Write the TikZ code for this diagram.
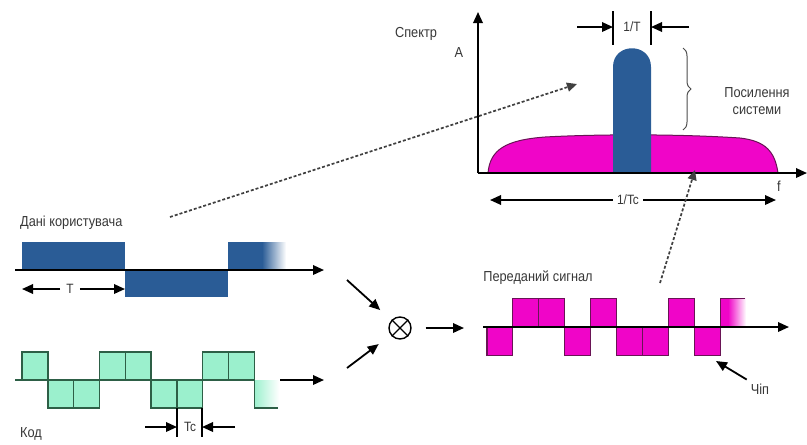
\documentclass[tikz,border=0pt]{standalone}
\usepackage{fontspec}
\setmainfont{Liberation Sans}[FakeStretch=0.88]
\usetikzlibrary{arrows.meta, positioning, decorations.pathreplacing, calc}
\definecolor{databg}{RGB}{42, 92, 150}
\definecolor{chipbg}{RGB}{155, 240, 205}
\definecolor{chipln}{RGB}{45, 95, 70}
\definecolor{sigbg}{RGB}{240, 5, 200}
\definecolor{sigln}{RGB}{105, 20, 85}
\definecolor{txt}{RGB}{55, 55, 55}
\tikzset{
    font=\fontsize{14.5}{16.5}\selectfont,
    lbl/.style={inner sep=1pt, text=txt, align=center},
    small/.style={lbl, font=\fontsize{13.5}{15}\selectfont},
    arrow/.style={-{Triangle[length=11pt, width=9.5pt]}, line width=1.8pt},
    dotarrow/.style={-{Triangle[length=10pt, width=9pt]}, line width=1.7pt, dash pattern=on 3pt off 2pt, black!75},
    databit/.style={fill=databg},
    codechip/.style={fill=chipbg, draw=chipln, line width=1.4pt},
    sigchip/.style={fill=sigbg, draw=sigln, line width=1.1pt},
    marker/.style={line width=1.5pt},
    mixer/.style={circle, draw, line width=1.4pt, minimum size=22pt, inner sep=0pt}
}

\begin{document}
\begin{tikzpicture}[x=1pt, y=-1pt]
    \useasboundingbox (0,0) rectangle (807,445);

    % --- spectrum ---
    \draw[sigln, fill=sigbg, line width=1pt] (488,173) .. controls (490,150) and (505,140) .. (545,137)
        .. controls (600,134) and (680,134) .. (740,138) .. controls (766,141) and (775,152) .. (778,173) -- cycle;
    \fill[databg] (613,173) -- (613,67) .. controls (613,42) and (651,42) .. (651,67) -- (651,173) -- cycle;

    \coordinate (origin) at (478,173);
    \coordinate (ytop) at (478,12);
    \coordinate (xend) at (807,173);
    \draw[arrow] (origin) -- (ytop);
    \draw[arrow] (origin) -- (xend);

    \node[lbl] (speclbl) at (416,34) {Спектр};
    \node[lbl] (alabel) at (459,53) {A};
    \node[lbl] (flabel) at (779,186) {f};

    % 1/T width
    \draw[marker] (613,11) -- (613,45);
    \draw[marker] (651,11) -- (651,45);
    \node[small] (invT) at (632,27) {1/T};
    \coordinate (invTa) at (577,27);
    \coordinate (invTb) at (689,27);
    \coordinate (invTl) at (613,27);
    \coordinate (invTr) at (651,27);
    \draw[arrow] (invTa) -- (invTl);
    \draw[arrow] (invTb) -- (invTr);

    % gain brace
    \draw[line width=1pt, black!70, decorate, decoration={brace, amplitude=8pt}] (683,48) -- (683,130);
    \node[lbl] (gainlbl) at (757,101) {Посилення\\системи};

    % 1/Tc width
    \node[small] (invTc) at (628,200) {1/Tc};
    \coordinate (invTcl) at (490,200);
    \coordinate (invTcr) at (776,200);
    \draw[arrow] (invTc.west) ++(-3,0) -- (invTcl);
    \draw[arrow] (invTc.east) ++(3,0) -- (invTcr);

    % --- user data ---
    \node[lbl, anchor=west] (datalbl) at (19,223) {Дані користувача};
    \fill[databit] (22,242) rectangle (125,270);
    \fill[databit] (125,270) rectangle (228,297);
    \fill[databit] (228,242) rectangle (263,270);
    \shade[left color=databg, right color=white] (262,242) rectangle (286,270);
    \coordinate (dataa) at (15,270);
    \coordinate (datab) at (324,270);
    \draw[arrow] (dataa) -- (datab);

    \node[small] (tlbl) at (70,289) {T};
    \coordinate (ta) at (22,289);
    \coordinate (tb) at (125,289);
    \draw[arrow] (tlbl.west) ++(-5,0) -- (ta);
    \draw[arrow] (tlbl.east) ++(5,0) -- (tb);

    % --- spreading code ---
    \foreach [count=\i from 0] \s in {1,-1,-1,1,1,-1,-1,1,1} {
        \draw[codechip] ({22+\i*25.8},380) rectangle ({22+(\i+1)*25.8},{380-28*\s});
    }
    \shade[left color=chipbg, right color=white] (254,380) rectangle (279,408);
    \draw[chipln, line width=1.4pt] (254.2,380) -- (254.2,408) -- (278,408);
    \coordinate (codea) at (15,380);
    \coordinate (codeb) at (254,380);
    \draw[chipln, line width=1.4pt] (codea) -- (codeb);
    \coordinate (codec) at (280,380);
    \coordinate (coded) at (324,380);
    \draw[arrow] (codec) -- (coded);

    \draw[marker] (177,408) -- (177,437);
    \draw[marker] (202,408) -- (202,437);
    \node[small] (tclbl) at (190,427) {Tc};
    \coordinate (tca) at (145,427);
    \coordinate (tcb) at (235,427);
    \coordinate (tcl) at (177,427);
    \coordinate (tcr) at (202,427);
    \draw[arrow] (tca) -- (tcl);
    \draw[arrow] (tcb) -- (tcr);
    \node[lbl, anchor=west] (codelbl) at (19,434) {Код};

    % --- mixer ---
    \node[mixer] (mix) at (400,328) {};
    \draw[line width=1.4pt] (mix.north west) -- (mix.south east);
    \draw[line width=1.4pt] (mix.north east) -- (mix.south west);
    \coordinate (mixina) at (347,280);
    \coordinate (mixinb) at (347,368);
    \coordinate (mixout) at (464,328);
    \draw[arrow, shorten >=15pt] (mixina) -- (mix);
    \draw[arrow, shorten >=15pt] (mixinb) -- (mix);
    \draw[arrow, shorten <=14pt] (mix) -- (mixout);

    % --- transmitted signal ---
    \node[lbl] (txlbl) at (538,278) {Переданий сигнал};
    \foreach [count=\i from 0] \s in {-1,1,1,-1,1,-1,-1,1,-1} {
        \draw[sigchip] ({487+\i*25.9},327) rectangle ({487+(\i+1)*25.9},{327-28.5*\s});
    }
    \fill[sigbg] (720,298.5) rectangle (729,327);
    \shade[left color=sigbg, right color=white] (728,298.5) rectangle (746,327);
    \draw[sigln, line width=1.1pt] (720.1,355.5) -- (720.1,298.5) -- (745,298.5);
    \coordinate (txa) at (483,327);
    \coordinate (txb) at (789,327);
    \draw[arrow] (txa) -- (txb);

    \node[lbl] (chiplbl) at (760,389) {Чіп};
    \coordinate (chiptip) at (716,361);
    \draw[arrow] (chiplbl.north west) ++(-3,-3) -- (chiptip);

    % --- dotted links to the spectrum ---
    \coordinate (linkdata) at (170,217);
    \coordinate (linkspec) at (577,84);
    \draw[dotarrow] (linkdata) -- (linkspec);
    \coordinate (linktx) at (660,283);
    \coordinate (linkhump) at (695,170);
    \draw[dotarrow] (linktx) -- (linkhump);
\end{tikzpicture}
\end{document}
